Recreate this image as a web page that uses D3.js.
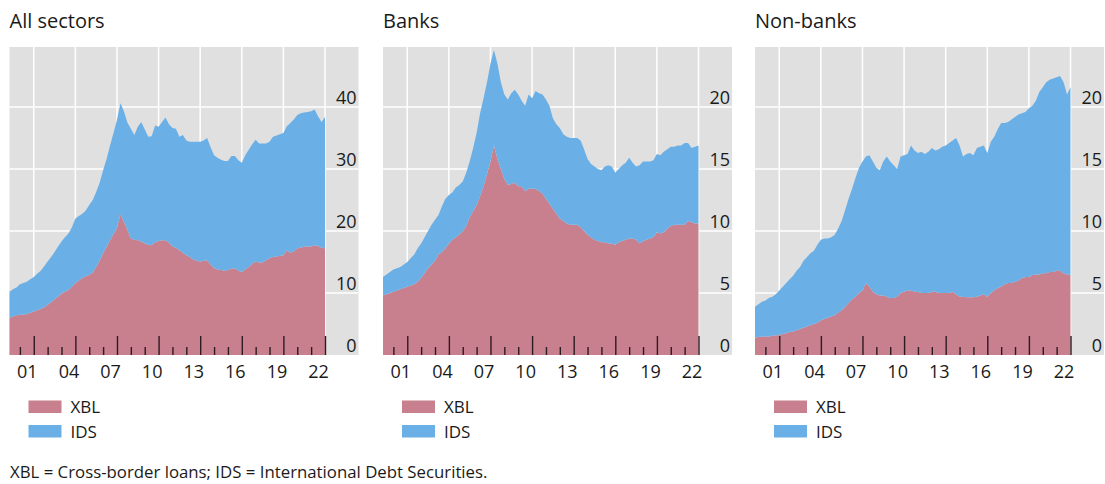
<!DOCTYPE html>
<html>
<head>
<meta charset="utf-8">
<script src="https://cdn.jsdelivr.net/npm/d3@7"></script>
<style>
  body { margin: 0; background: #fff; }
  svg { display: block; }
  text { font-family: "Open Sans", sans-serif; fill: #1a1a1a; }
</style>
</head>
<body>
<script>
// quarterly, 2000Q1 .. 2022Q4 (4 values per row = one year)
var allXbl = [
  6.0, 6.2, 6.4, 6.5,   6.5, 6.6, 6.8, 7.0,   7.2, 7.4, 7.7, 8.1,   8.5, 9.0, 9.4, 9.9,
  10.2, 10.5, 11.0, 11.6,   12.0, 12.4, 12.7, 12.9,   13.3, 14.2, 15.2, 16.4,   17.4, 18.5, 19.5, 20.5,
  22.7, 21.5, 20.2, 18.8,   18.6, 18.5, 18.3, 18.0,   17.8, 17.7, 18.2, 18.4,   18.5, 18.5, 18.1, 17.5,
  17.3, 16.9, 16.5, 16.1,   15.8, 15.4, 15.2, 15.1,   15.2, 15.3, 14.6, 14.0,   13.8, 13.7, 13.6, 13.7,
  13.9, 14.0, 13.6, 13.4,   13.8, 14.2, 14.7, 15.1,   14.9, 14.9, 15.3, 15.6,   15.8, 15.9, 16.0, 16.1,
  16.9, 16.5, 16.7, 17.2,   17.3, 17.5, 17.5, 17.5,   17.7, 17.6, 17.3, 17.2
];
var allIds = [
  4.2, 4.4, 4.5, 4.9,   5.1, 5.2, 5.4, 5.6,   5.9, 6.2, 6.6, 7.0,   7.3, 7.6, 8.1, 8.4,
  8.8, 9.1, 9.6, 10.4,   10.4, 10.4, 10.6, 11.3,   11.7, 12.1, 12.6, 13.4,   14.2, 15.3, 16.3, 17.4,
  17.9, 17.8, 17.3, 17.7,   16.9, 18.3, 19.3, 18.4,   17.4, 17.6, 18.8, 18.4,   19.1, 19.8, 19.1, 19.1,
  19.2, 18.3, 19.0, 18.5,   18.6, 19.0, 19.2, 19.3,   19.4, 19.7, 18.9, 18.2,   18.0, 17.8, 17.7, 17.6,
  18.2, 18.1, 17.8, 17.6,   18.4, 18.9, 19.3, 19.6,   19.2, 19.2, 18.8, 18.8,   19.4, 19.5, 19.6, 19.7,
  20.0, 20.9, 21.3, 21.5,   21.7, 21.6, 21.7, 21.8,   21.9, 20.9, 20.3, 21.2
];
var bankXbl = [
  4.8, 4.9, 5.0, 5.1,   5.2, 5.3, 5.4, 5.5,   5.6, 5.7, 5.9, 6.2,   6.6, 7.0, 7.3, 7.6,
  8.1, 8.3, 8.6, 9.0,   9.3, 9.5, 9.7, 10.0,   10.4, 11.1, 11.6, 12.1,   12.8, 13.6, 14.6, 15.6,
  16.9, 15.8, 15.0, 14.2,   13.7, 13.8, 13.9, 13.6,   13.6, 13.2, 13.4, 13.4,   13.4, 13.2, 13.0, 12.6,
  12.2, 11.8, 11.4, 11.0,   10.8, 10.6, 10.5, 10.5,   10.5, 10.3, 10.0, 9.7,   9.5, 9.3, 9.2, 9.1,
  9.1, 9.0, 9.0, 8.9,   9.1, 9.2, 9.3, 9.4,   9.4, 9.3, 9.0, 9.2,   9.3, 9.4, 9.5, 9.9,
  9.8, 9.9, 10.2, 10.4,   10.5, 10.5, 10.5, 10.5,   10.8, 10.7, 10.6, 10.6
];
var bankIds = [
  1.5, 1.6, 1.7, 1.8,   1.8, 1.8, 1.9, 2.0,   2.2, 2.4, 2.7, 2.8,   2.9, 3.0, 3.2, 3.3,
  3.2, 3.7, 4.0, 3.9,   3.8, 4.0, 4.0, 4.0,   4.3, 4.5, 5.1, 5.8,   6.7, 7.1, 7.4, 7.9,
  7.7, 7.7, 7.0, 6.8,   6.9, 7.3, 7.5, 7.4,   6.9, 6.9, 7.6, 7.3,   7.9, 7.9, 8.0, 8.0,
  7.9, 7.3, 7.2, 7.3,   7.0, 7.0, 7.0, 7.0,   7.0, 7.0, 6.6, 6.1,   5.9, 5.9, 5.8, 5.8,
  6.1, 6.3, 6.2, 5.8,   5.9, 6.1, 6.2, 6.5,   6.1, 5.9, 6.3, 6.4,   6.3, 6.2, 6.2, 6.3,
  6.3, 6.5, 6.4, 6.4,   6.3, 6.4, 6.4, 6.6,   6.3, 6.0, 6.2, 6.3
];
var nonbankXbl = [
  1.4, 1.45, 1.5, 1.5,   1.5, 1.55, 1.6, 1.6,   1.7, 1.75, 1.85, 1.9,   2.0, 2.1, 2.2, 2.3,
  2.4, 2.5, 2.6, 2.8,   2.9, 3.0, 3.1, 3.2,   3.4, 3.6, 3.9, 4.2,   4.5, 4.7, 5.0, 5.2,
  5.8, 5.5, 5.1, 4.9,   4.8, 4.8, 4.7, 4.6,   4.6, 4.7, 5.0, 5.1,   5.2, 5.2, 5.1, 5.1,
  5.0, 5.0, 5.0, 5.1,   5.1, 5.0, 5.0, 5.0,   5.0, 5.1, 4.9, 4.7,   4.7, 4.65, 4.65, 4.65,
  4.7, 4.8, 4.9, 4.7,   5.0, 5.2, 5.4, 5.5,   5.7, 5.8, 5.8, 5.9,   6.0, 6.2, 6.3, 6.3,
  6.45, 6.5, 6.5, 6.6,   6.6, 6.7, 6.7, 6.8,   6.8, 6.6, 6.5, 6.45
];
var nonbankIds = [
  2.5, 2.65, 2.8, 2.9,   3.1, 3.15, 3.3, 3.6,   3.8, 4.05, 4.25, 4.5,   4.8, 5.0, 5.4, 5.6,
  5.8, 5.9, 6.3, 6.5,   6.5, 6.4, 6.4, 6.5,   6.8, 7.2, 7.8, 8.4,   8.9, 9.6, 10.1, 10.4,
  10.2, 10.6, 10.5, 10.2,   10.1, 10.8, 11.3, 11.0,   10.7, 10.3, 11.0, 11.0,   11.0, 11.7, 11.4, 11.2,
  11.4, 11.2, 11.4, 11.6,   11.4, 11.6, 11.8, 11.9,   12.1, 12.2, 12.6, 12.2,   11.3, 11.55, 11.65, 11.45,
  12.0, 12.0, 12.0, 11.6,   12.2, 12.4, 12.8, 13.2,   13.0, 13.0, 13.2, 13.3,   13.4, 13.3, 13.3, 13.6,
  13.65, 14.0, 14.7, 15.0,   15.4, 15.5, 15.6, 15.6,   15.7, 15.4, 14.5, 15.15
];

var yearLabels = ["01", "04", "07", "10", "13", "16", "19", "22"];
var labelYears = [2001.5, 2004.5, 2007.5, 2010.5, 2013.5, 2016.5, 2019.5, 2022.5];
var majorYears = [2002, 2005, 2008, 2011, 2014, 2017, 2020, 2023];
var minorYears = [2001, 2003, 2004, 2006, 2007, 2009, 2010, 2012, 2013, 2015, 2016, 2018, 2019, 2021, 2022];
var seriesNames = ["XBL", "IDS"];

var colors = {XBL: "#c8808e", IDS: "#6aafe5"};

// quarter-end positions
var quarters = d3.range(allXbl.length).map(function(i) { return 2000.25 + i * 0.25; });

var panels = [
  {title: "All sectors", left: 9.5, xbl: allXbl, ids: allIds, yMax: 50, ticks: [0, 10, 20, 30, 40]},
  {title: "Banks", left: 383, xbl: bankXbl, ids: bankIds, yMax: 25, ticks: [0, 5, 10, 15, 20]},
  {title: "Non-banks", left: 755, xbl: nonbankXbl, ids: nonbankIds, yMax: 25, ticks: [0, 5, 10, 15, 20]}
];

var plotTop = 47, plotBottom = 355, bgWidth = 349, dataWidth = 315.5;

var svg = d3.select("body").append("svg")
  .attr("width", 1105)
  .attr("height", 484);

panels.forEach(function(p) {
  var g = svg.append("g");

  var x = d3.scaleLinear()
    .domain([2000.25, 2023])
    .range([p.left, p.left + dataWidth]);
  var y = d3.scaleLinear()
    .domain([0, p.yMax])
    .range([plotBottom, plotBottom - 310]);

  g.append("text")
    .attr("x", p.left)
    .attr("y", 28)
    .style("font-size", "20px")
    .text(p.title);

  g.append("rect")
    .attr("x", p.left)
    .attr("y", plotTop)
    .attr("width", bgWidth)
    .attr("height", plotBottom - plotTop)
    .attr("fill", "#e0e0e0");

  // gridlines
  g.selectAll(".hgrid")
    .data(p.ticks.slice(1))
    .enter().append("line")
    .attr("x1", p.left).attr("x2", p.left + bgWidth)
    .attr("y1", function(d) { return y(d); })
    .attr("y2", function(d) { return y(d); })
    .attr("stroke", "#fff")
    .attr("stroke-width", 1.5);

  g.selectAll(".vgrid")
    .data(majorYears)
    .enter().append("line")
    .attr("x1", function(d) { return x(d); })
    .attr("x2", function(d) { return x(d); })
    .attr("y1", plotTop).attr("y2", plotBottom)
    .attr("stroke", "#fff")
    .attr("stroke-width", 1.5);

  var rows = quarters.map(function(q, i) {
    return {t: q, XBL: p.xbl[i], IDS: p.ids[i]};
  });
  var stacked = d3.stack().keys(seriesNames)(rows);

  var area = d3.area()
    .x(function(d) { return x(d.data.t); })
    .y0(function(d) { return y(d[0]); })
    .y1(function(d) { return y(d[1]); });

  g.selectAll(".layer")
    .data(stacked)
    .enter().append("path")
    .attr("fill", function(d) { return colors[d.key]; })
    .attr("d", area);

  // year ticks
  var majorAxis = g.append("g")
    .attr("transform", "translate(0," + plotBottom + ")")
    .call(d3.axisBottom(x).tickValues(majorYears).tickSize(-19).tickFormat(""));
  var minorAxis = g.append("g")
    .attr("transform", "translate(0," + plotBottom + ")")
    .call(d3.axisBottom(x).tickValues(minorYears).tickSize(-8).tickFormat(""));
  [majorAxis, minorAxis].forEach(function(a) {
    a.select(".domain").remove();
    a.selectAll("line").attr("stroke", "#2e1a21").attr("stroke-width", 1.4);
  });

  var labelAxis = g.append("g")
    .attr("transform", "translate(0,378)")
    .call(d3.axisBottom(x).tickValues(labelYears).tickSize(0)
      .tickFormat(function(d, i) { return yearLabels[i]; }));
  labelAxis.select(".domain").remove();
  labelAxis.selectAll("text")
    .attr("y", 0).attr("dy", null)
    .style("font-size", "18px")
    .style("font-family", "'Open Sans', sans-serif")
    .attr("fill", "#1a1a1a");

  var yAxis = g.append("g")
    .attr("transform", "translate(" + (p.left + bgWidth - 2) + ",0)")
    .call(d3.axisLeft(y).tickValues(p.ticks).tickSize(0).tickPadding(0));
  yAxis.select(".domain").remove();
  yAxis.selectAll("text")
    .attr("dy", null).attr("y", -3.5)
    .style("font-size", "18px")
    .style("font-family", "'Open Sans', sans-serif")
    .attr("fill", "#1a1a1a");

  // legend
  var legend = g.selectAll(".legend")
    .data(seriesNames)
    .enter().append("g")
    .attr("transform", function(d, i) { return "translate(" + (p.left + 19) + "," + (400.5 + i * 24.5) + ")"; });
  legend.append("rect")
    .attr("width", 33).attr("height", 12.5)
    .attr("fill", function(d) { return colors[d]; });
  legend.append("text")
    .attr("x", 42).attr("y", 12.5)
    .style("font-size", "17px")
    .text(function(d) { return d; });
});

svg.append("text")
  .attr("x", 10)
  .attr("y", 478)
  .style("font-size", "16.8px")
  .text("XBL = Cross-border loans; IDS = International Debt Securities.");
</script>
</body>
</html>
